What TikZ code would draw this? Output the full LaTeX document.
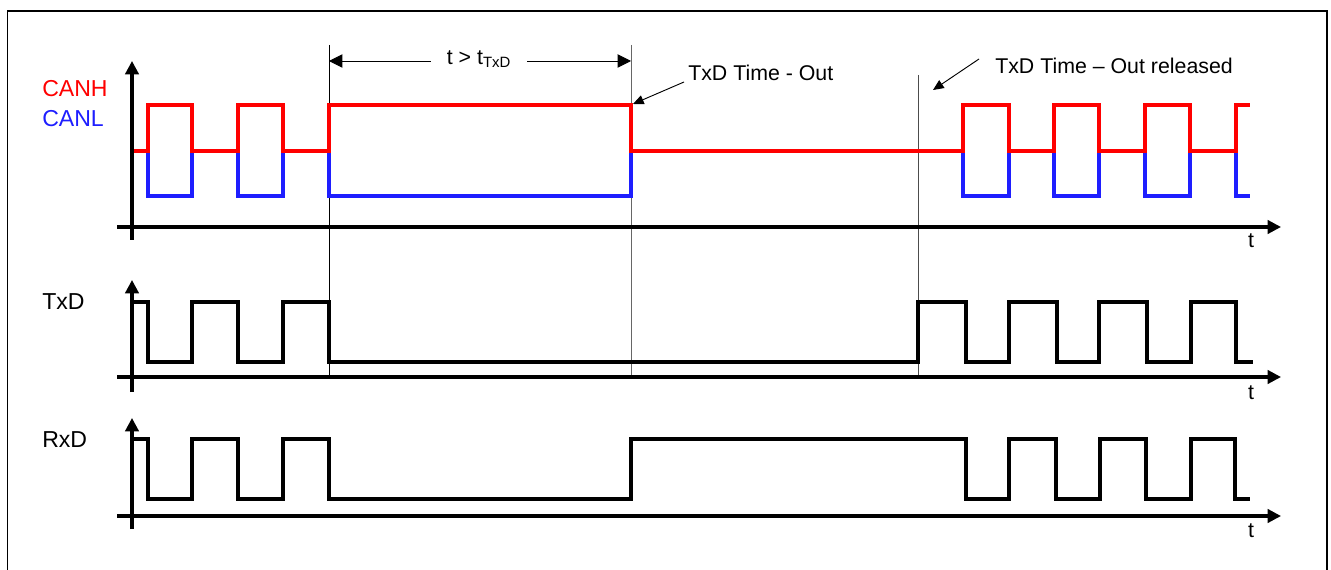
\documentclass[tikz,border=0pt]{standalone}
\usepackage{fontspec}
\setmainfont{Liberation Sans}
\usetikzlibrary{arrows.meta}
\definecolor{canred}{RGB}{255,0,0}
\definecolor{canblue}{RGB}{30,30,255}
\tikzset{
  wave/.style={line width=2.3pt, line join=miter},
  axis/.style={line width=2.3pt, -{Triangle[length=10pt,width=10pt]}},
  marker/.style={line width=0.7pt},
  dim/.style={line width=0.7pt, {Triangle[length=10pt,width=10pt]}-{Triangle[length=10pt,width=10pt]}},
  callout/.style={line width=0.7pt, -{Triangle[length=8pt,width=7pt]}},
  lbl/.style={font=\fontsize{16}{19}\selectfont, inner sep=0pt},
  biglbl/.style={font=\fontsize{17.3}{20}\selectfont, inner sep=0pt},
}
\newcommand\canwave[1]{(132,151) -- (148,151) -- (148,#1) -- (192,#1) -- (192,151) -- (238,151) -- (238,#1) -- (283,#1) -- (283,151) -- (329,151) -- (329,#1) -- (631,#1) -- (631,151) -- (963,151) -- (963,#1) -- (1009,#1) -- (1009,151) -- (1054,151) -- (1054,#1) -- (1099,#1) -- (1099,151) -- (1145,151) -- (1145,#1) -- (1190,#1) -- (1190,151) -- (1236,151) -- (1236,#1) -- (1250,#1)}
\begin{document}
\begin{tikzpicture}[x=0.75pt,y=-0.75pt]
\useasboundingbox (0,0) rectangle (1331,570);
% frame
\draw[line width=1pt] (7.5,571) -- (7.5,11) -- (1327,11) -- (1327,571);

% labels
\node[biglbl, text=canred, anchor=west] (canh) at (42,89) {CANH};
\node[biglbl, text=canblue, anchor=west] (canl) at (42,119) {CANL};
\node[biglbl, anchor=west] (txd) at (42,302) {TxD};
\node[biglbl, anchor=west] (rxd) at (42,440) {RxD};

% marker lines
\coordinate (m1t) at (329,45); \coordinate (m1b) at (329,378);
\coordinate (m2t) at (631,45); \coordinate (m2b) at (631,378);
\coordinate (m3t) at (918,75); \coordinate (m3b) at (918,378);
\draw[marker] (m1t) -- (m1b);
\draw[marker, black!60] (m2t) -- (m2b);
\draw[marker, black!70] (m3t) -- (m3b);

% CAN waveforms
\draw[wave, canblue] \canwave{196};
\draw[wave, canred] \canwave{105};

% TxD
\draw[wave] (132,302) -- (148,302) -- (148,362) -- (192,362) -- (192,302) -- (238,302) -- (238,362) -- (283,362) -- (283,302) -- (329,302) -- (329,362) -- (918,362) -- (918,302) -- (966,302) -- (966,362) -- (1009,362) -- (1009,302) -- (1057,302) -- (1057,362) -- (1099,362) -- (1099,302) -- (1147,302) -- (1147,362) -- (1191,362) -- (1191,302) -- (1236,302) -- (1236,362) -- (1253,362);

% RxD
\draw[wave] (132,439) -- (148,439) -- (148,499) -- (192,499) -- (192,439) -- (238,439) -- (238,499) -- (283,499) -- (283,439) -- (329,439) -- (329,499) -- (631,499) -- (631,439) -- (966,439) -- (966,499) -- (1009,499) -- (1009,439) -- (1056,439) -- (1056,499) -- (1100,499) -- (1100,439) -- (1146,439) -- (1146,499) -- (1191,499) -- (1191,439) -- (1235,439) -- (1235,499) -- (1250,499);

% axes
\coordinate (a1b) at (132,240); \coordinate (a1t) at (132,61);
\coordinate (a1l) at (117,227); \coordinate (a1r) at (1281,227);
\coordinate (a2b) at (132,392); \coordinate (a2t) at (132,280);
\coordinate (a2l) at (117,377); \coordinate (a2r) at (1281,377);
\coordinate (a3b) at (132,529); \coordinate (a3t) at (132,418);
\coordinate (a3l) at (117,516); \coordinate (a3r) at (1281,516);
\draw[axis] (a1b) -- (a1t);
\draw[axis] (a1l) -- (a1r);
\draw[axis] (a2b) -- (a2t);
\draw[axis] (a2l) -- (a2r);
\draw[axis] (a3b) -- (a3t);
\draw[axis] (a3l) -- (a3r);
\node[lbl] (t1) at (1251,241) {t};
\node[lbl] (t2) at (1251,393) {t};
\node[lbl] (t3) at (1251,531) {t};

% dimension
\coordinate (d1) at (329,61);
\coordinate (d2) at (631,61);
\draw[dim] (d1) -- (d2);
\node[lbl, fill=white, inner xsep=12pt, inner ysep=3pt] (dl) at (479,59) {t > t\textsubscript{TxD}};

% callouts
\node[lbl, anchor=west] (to) at (688,73) {TxD Time - Out};
\coordinate (toa) at (633,104);
\draw[callout] (684,82) -- (toa);
\node[lbl, anchor=west] (tor) at (995,66) {TxD Time – Out released};
\coordinate (tora) at (933,90);
\draw[callout] (979,59) -- (tora);
\end{tikzpicture}
\end{document}
